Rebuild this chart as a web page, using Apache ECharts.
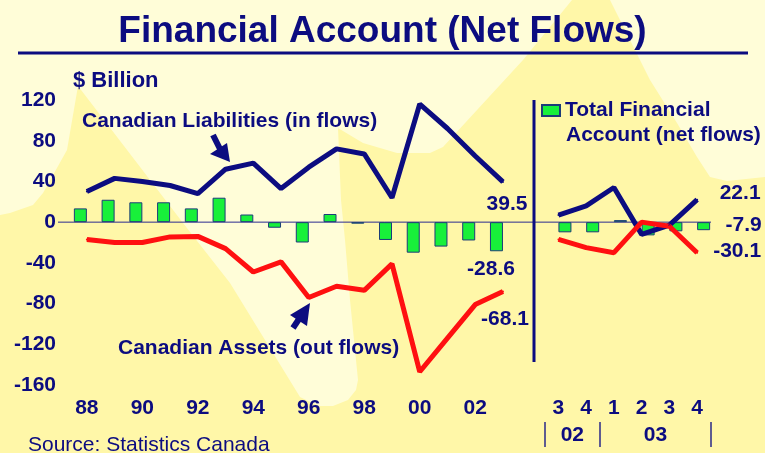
<!DOCTYPE html>
<html>
<head>
<meta charset="utf-8">
<script src="https://cdn.jsdelivr.net/npm/echarts@6/dist/echarts.min.js"></script>
<style>
html,body{margin:0;padding:0;background:#FFF7A8;}
#c{width:765px;height:453px;}
</style>
</head>
<body>
<div id="c"></div>
<script>
// ---- data ----
const yearLabels = ['88','89','90','91','92','93','94','95','96','97','98','99','00','01','02','03'];
const quarterLabels = ['3','4','1','2','3','4'];
const quarterYears = ['02','02','03','03','03','03'];
const liabAnnual   = [30, 43, 40, 36, 28, 52, 58, 33, 54, 72, 67, 24, 116, 92, 65, 39.5];
const assetsAnnual = [-17, -20, -20, -14.5, -14, -26, -49, -39, -74, -63, -67, -41, -147, -114, -81, -68.1];
const netAnnual    = [13.5, 22, 19.5, 19.5, 13.5, 24, 7.5, -5.5, -20, 8, -1.5, -17.5, -30, -24, -18, -28.6];
const liabQuarter   = [7, 16, 34, -12, -3, 22.1];
const assetsQuarter = [-17, -25, -30, 0, -4, -30.1];
const netQuarter    = [-10, -10, 2, -13, -9, -7.9];
const yTicks = {min: -160, max: 120, interval: 40};

// ---- styles ----
const NAVY = '#0c0c80';
const RED = '#ff1010';
const GREEN = '#18f03a';
const FONT = '"Liberation Sans", Arial, sans-serif';
const LIGHT = '#FFFDD8';

const nY = yearLabels.length;
const gapIdx = nY;               // empty slot between panels
const qStart = nY + 1;
const cats = yearLabels.concat(['']).concat(quarterLabels);
const nC = cats.length;

// second axis (year groups under quarters)
const groupCats = new Array(nC).fill('');
const groupStarts = [];
for (let i = 0; i < quarterYears.length; i++) {
  if (i === 0 || quarterYears[i] !== quarterYears[i - 1]) groupStarts.push(qStart + i);
}
groupStarts.forEach(function (s, k) {
  const e = (k + 1 < groupStarts.length ? groupStarts[k + 1] : nC) - 1;
  const n = e - s + 1;
  const idx = s + Math.ceil((n - 1) / 2);
  groupCats[idx] = ((n - 1) % 2 === 1 ? '{h|' : '{c|') + quarterYears[s - qStart] + '}';
});

function pad(arrA, arrQ) {
  return arrA.concat([null]).concat(arrQ);
}
const liabAll = pad(liabAnnual, liabQuarter);
const assetsAll = pad(assetsAnnual, assetsQuarter);
const netA = netAnnual.concat(new Array(nC - nY).fill(null));
const netQ = new Array(qStart).fill(null).concat(netQuarter);

const valLabel = {fontSize: 21, fontWeight: 'bold', color: NAVY, fontFamily: FONT};
function withLabels(arr, map) {
  return arr.map(function (v, i) {
    if (map[i]) return {value: v, label: Object.assign({show: true, position: 'inside', offset: map[i]}, valLabel)};
    return v;
  });
}
const liabData = withLabels(liabAll, {[nY - 1]: [4, 22], [nC - 1]: [43, -6.5]});
const assetsData = withLabels(assetsAll, {[nY - 1]: [2, 27.5], [nC - 1]: [40, -2]});
const netAData = withLabels(netA, {[nY - 1]: [-5.5, 33]});
const netQData = withLabels(netQ, {[nC - 1]: [40, -1]});

const txt = function (id, text, x, y, font) {
  return {type: 'text', id: id, z: 5, style: {text: text, x: x, y: y, fill: NAVY, font: font || ('bold 21px ' + FONT), verticalAlign: 'middle', align: 'left'}};
};

const graphics = [
  {type: 'polygon', id: 'bgA', z: 0, silent: true, shape: {points: [[0,0],[572,0],[523,60],[443,147],[430,153],[397,153],[363,143],[338,128],[341,200],[345,240],[350,300],[356,360],[358,380],[356,390],[348,400],[333,406],[320,406],[308,401],[300,397],[230,283],[183,223],[78,86],[67,150],[43,193],[33,205],[10,213],[0,215]]}, style: {fill: LIGHT}},
  {type: 'polygon', id: 'bgB', z: 0, silent: true, shape: {points: [[610,0],[650,80],[677,123],[697,157],[710,177],[727,181],[765,177],[765,0]]}, style: {fill: LIGHT}},
  {type: 'line', id: 'titleRule', z: 5, shape: {x1: 18, y1: 53, x2: 748, y2: 53}, style: {stroke: NAVY, lineWidth: 3}},
  {type: 'line', id: 'divider', z: 5, shape: {x1: 534, y1: 100, x2: 534, y2: 362}, style: {stroke: NAVY, lineWidth: 3}},
  txt('unit', '$ Billion', 73, 81, 'bold 22px ' + FONT),
  txt('annL', 'Canadian Liabilities (in flows)', 82, 121),
  txt('annA', 'Canadian Assets (out flows)', 118, 348),
  txt('leg2', 'Account (net flows)', 566, 135),
  txt('src', 'Source: Statistics Canada', 28, 445, '21px ' + FONT),
  {type: 'line', id: 'arr1s', z: 5, shape: {x1: 213, y1: 135, x2: 221, y2: 151}, style: {stroke: NAVY, lineWidth: 6}},
  {type: 'polygon', id: 'arr1h', z: 5, shape: {points: [[230,162],[210,154],[227,143]]}, style: {fill: NAVY}},
  {type: 'line', id: 'arr2s', z: 5, shape: {x1: 301, y1: 316, x2: 293, y2: 328}, style: {stroke: NAVY, lineWidth: 6}},
  {type: 'polygon', id: 'arr2h', z: 5, shape: {points: [[310,303],[290,315],[307,326]]}, style: {fill: NAVY}}
];

const chart = echarts.init(document.getElementById('c'), null, {renderer: 'canvas'});
const labelFont = {fontSize: 21, fontWeight: 'bold', color: NAVY, fontFamily: FONT};

chart.setOption({
  animation: false,
  backgroundColor: '#FFF7A8',
  title: {
    text: 'Financial Account (Net Flows)', left: 'center', top: 8,
    textStyle: {fontSize: 37, fontWeight: 'bold', color: NAVY, fontFamily: FONT}
  },
  legend: {
    data: ['Total Financial'], left: 541, top: 100, padding: 0,
    icon: 'rect', itemWidth: 18, itemHeight: 11, selectedMode: false,
    textStyle: {fontSize: 21, fontWeight: 'bold', color: NAVY, fontFamily: FONT}
  },
  grid: {left: 73, right: 54, top: 100, bottom: 68, containLabel: false},
  xAxis: [
    {
      type: 'category', data: cats, boundaryGap: true,
      axisLine: {show: false}, axisTick: {show: false},
      axisLabel: Object.assign({
        margin: 13,
        interval: function (i) { return i < nY ? i % 2 === 0 : i > gapIdx; }
      }, labelFont)
    },
    {
      type: 'category', data: groupCats, boundaryGap: true, position: 'bottom', offset: 37,
      axisLine: {show: false},
      axisTick: {show: true, length: 25, interval: function (i) { return groupStarts.indexOf(i) >= 0; }, lineStyle: {color: '#2a2a88', width: 1.5}},
      axisLabel: Object.assign({
        margin: 3, interval: 0,
        rich: {
          h: Object.assign({padding: [0, 27.7, 0, 0]}, labelFont),
          c: Object.assign({}, labelFont)
        }
      }, labelFont)
    }
  ],
  yAxis: {
    type: 'value', min: yTicks.min, max: yTicks.max, interval: yTicks.interval,
    axisLine: {show: false}, axisTick: {show: false}, splitLine: {show: false},
    axisLabel: Object.assign({margin: 17}, labelFont)
  },
  series: [
    {name: 'Total Financial', type: 'bar', data: netAData, barWidth: 13, barGap: '0%', silent: true,
     itemStyle: {color: GREEN, borderColor: '#1c3c78', borderWidth: 1}},
    {name: 'Total Financial', type: 'bar', data: netQData, barWidth: 13, barGap: '0%', silent: true,
     itemStyle: {color: GREEN, borderColor: '#1c3c78', borderWidth: 1}},
    {name: 'Canadian Liabilities (in flows)', type: 'line', data: liabData, connectNulls: false, silent: true,
     showSymbol: true, showAllSymbol: true, symbol: 'circle', symbolSize: 2,
     itemStyle: {color: NAVY}, lineStyle: {color: NAVY, width: 5}},
    {name: 'Canadian Assets (out flows)', type: 'line', data: assetsData, connectNulls: false, silent: true,
     showSymbol: true, showAllSymbol: true, symbol: 'circle', symbolSize: 2,
     itemStyle: {color: RED}, lineStyle: {color: RED, width: 5}}
  ],
  graphic: graphics
});

const y0 = chart.convertToPixel({yAxisIndex: 0}, 0);
chart.setOption({
  graphic: [{type: 'line', id: 'zero', z: 1, shape: {x1: 58, y1: y0, x2: 711, y2: y0}, style: {stroke: '#2a2a90', lineWidth: 1}}]
});
</script>
</body>
</html>
